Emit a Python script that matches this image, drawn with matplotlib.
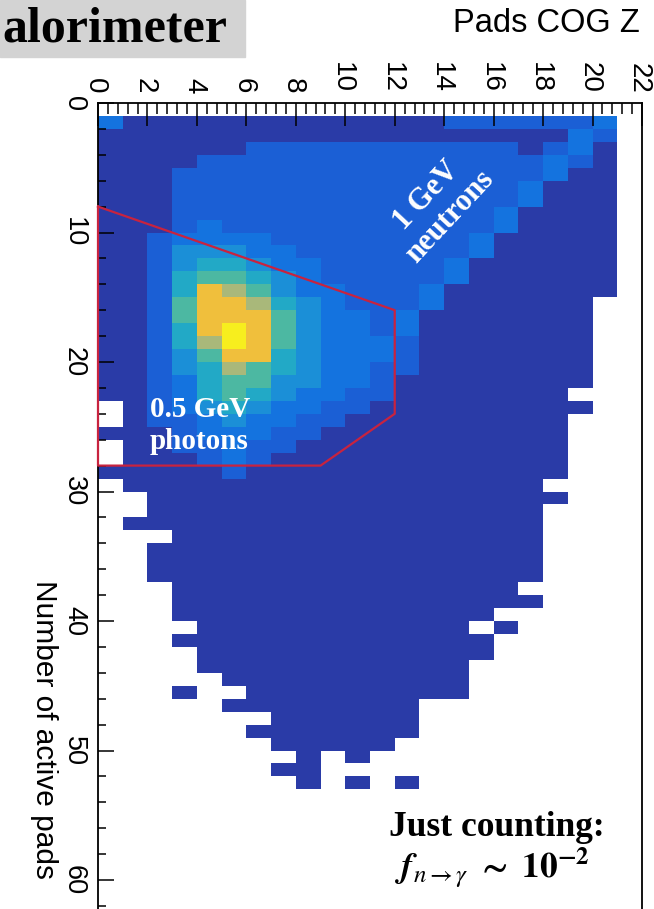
import numpy as np
import matplotlib.pyplot as plt
import matplotlib.transforms as mtransforms
from matplotlib.colors import ListedColormap, BoundaryNorm
from matplotlib.patches import Rectangle
from matplotlib.ticker import MultipleLocator

# colour level of each bin
# one string per "Number of active pads" bin (0..52), one char per "Pads COG Z" bin (0..21)
# '.' = empty bin, 1 = lowest .. 9 = highest (spaces only group columns by 5)
rows = [
    "..... ..... ..... ..... ..",
    "31111 11111 11112 22222 3.",
    "11111 11111 11111 11113 2.",
    "11111 12222 22222 22123 1.",
    "11112 22222 22222 22232 1.",
    "11122 22222 22222 22231 1.",
    "11122 22222 22222 22311 1.",
    "11122 22222 22222 22311 1.",
    "11122 22222 22222 23111 1.",
    "11123 22222 22222 23111 1.",
    "11233 33222 22222 31111 1.",
    "11244 43322 22222 31111 1.",
    "11245 54332 22223 11111 1.",
    "11256 65432 22223 11111 1.",
    "11258 76433 22231 11111 1.",
    "11268 87543 22231 11111 ..",
    "11268 88643 32311 11111 ..",
    "11258 98643 32311 11111 ..",
    "11257 98643 33211 11111 ..",
    "11246 88543 33211 11111 ..",
    "11245 76543 32211 11111 ..",
    "11235 66443 32111 11111 ..",
    "11235 65433 22111 1111. ..",
    ".1234 54332 21111 11111 ..",
    ".1223 43322 11111 1111. ..",
    "11123 33221 11111 1111. ..",
    ".1122 32211 11111 1111. ..",
    ".1112 32111 11111 1111. ..",
    "11111 21111 11111 1111. ..",
    ".1111 11111 11111 111.. ..",
    "..111 11111 11111 1111. ..",
    "..111 11111 11111 111.. ..",
    ".1111 11111 11111 111.. ..",
    "...11 11111 11111 111.. ..",
    "..111 11111 11111 111.. ..",
    "..111 11111 11111 111.. ..",
    "..111 11111 11111 111.. ..",
    "...11 11111 11111 11... ..",
    "...11 11111 11111 111.. ..",
    "...11 11111 11111 1.... ..",
    "....1 11111 11111 .1... ..",
    "...11 11111 11111 1.... ..",
    "....1 11111 11111 1.... ..",
    "....1 11111 11111 ..... ..",
    "..... 11111 11111 ..... ..",
    "...1. .1111 11111 ..... ..",
    "..... 11111 111.. ..... ..",
    "..... ..111 111.. ..... ..",
    "..... .1111 111.. ..... ..",
    "..... ..111 11... ..... ..",
    "..... ...1. 1.... ..... ..",
    "..... ..11. ..... ..... ..",
    "..... ...1. 1.1.. ..... ..",
]

palette = ['#2a3ba7', '#1b5fd5', '#1473df', '#1b8fd7', '#22a9c6',
           '#4cb8a2', '#a9b87a', '#f0bf3c', '#f7ee1e']

# photon selection cut drawn on top
cut_z = [0, 12, 12, 9, 0, 0]
cut_n = [8, 16, 24, 28, 28, 8]

level = np.array([[0 if ch == '.' else int(ch) for ch in r.replace(' ', '')]
                  for r in rows], float)
level = np.ma.masked_equal(level, 0)
z_edges = np.arange(level.shape[1] + 1)
n_edges = np.arange(level.shape[0] + 1)

W, H = 654, 909
fig = plt.figure(figsize=(W / 100, H / 100), dpi=100)

# axes: x from 0 to 22, y from 0 (top, px 103) downwards, 12.95 px per pad
y_max = 64
ax_h = y_max * 12.95 / H
ax = fig.add_axes([98 / W, 1 - 103 / H - ax_h, 544 / W, ax_h])

cmap = ListedColormap(palette)
norm = BoundaryNorm(np.arange(0.5, 10.5, 1), cmap.N)
ax.pcolormesh(z_edges, n_edges, level, cmap=cmap, norm=norm)
ax.set_xlim(0, 22)
ax.set_ylim(y_max, 0)

ax.plot(cut_z, cut_n, color='#c8233f', lw=1.6, zorder=5, clip_on=False)

# ticks
ax.xaxis.tick_top()
ax.xaxis.set_major_locator(MultipleLocator(2))
ax.xaxis.set_minor_locator(MultipleLocator(0.4))
ax.yaxis.set_major_locator(MultipleLocator(10))
ax.yaxis.set_minor_locator(MultipleLocator(2))
ax.tick_params(axis='x', which='both', direction='in', top=True, bottom=False,
               labelrotation=-90, labelsize=20, pad=7, width=1.1)
ax.tick_params(axis='x', which='major', length=16.5)
ax.tick_params(axis='x', which='minor', length=8)
ax.tick_params(axis='y', which='both', direction='in', left=True, right=False,
               labelrotation=-90, labelsize=19.5, pad=8, width=1.1)
ax.tick_params(axis='y', which='major', length=11.5)
ax.tick_params(axis='y', which='minor', length=6)
for lab in ax.get_xticklabels() + ax.get_yticklabels():
    lab.set_family('Liberation Sans')
for lab in ax.get_yticklabels():
    lab.set_verticalalignment('center')
shift = mtransforms.ScaledTranslation(-3 / 100, 0, fig.dpi_scale_trans)
for lab in ax.get_xticklabels():
    lab.set_transform(lab.get_transform() + shift)
for s in ax.spines.values():
    s.set_linewidth(1.3)

# annotations
ax.text(13.75, 8.0, '1 GeV\nneutrons', rotation=47, rotation_mode='anchor',
        ha='center', va='center', multialignment='center', color='white',
        fontsize=22, fontweight='bold', family='Liberation Serif', linespacing=1.1)
ax.text(2.1, 24.9, '0.5 GeV\nphotons', ha='left', va='center', color='white',
        fontsize=21, fontweight='bold', family='Liberation Serif', linespacing=1.25)

# title box, axis titles, bottom note
fig.patches.append(Rectangle((0, 1 - 57 / H), 245 / W, 57 / H,
                             transform=fig.transFigure, color='#d3d3d3', zorder=0))
fig.text(2 / W, 1 - 30 / H, 'alorimeter', ha='left', va='center',
         fontsize=36, fontweight='bold', family='Liberation Serif')
fig.text(640 / W, 1 - 23 / H, 'Pads COG Z', ha='right', va='center',
         fontsize=23.5, family='Liberation Sans')
fig.text(44 / W, 1 - 580 / H, 'Number of active pads', rotation=-90,
         ha='center', va='top', fontsize=21.5, family='Liberation Sans')

plt.rcParams['mathtext.fontset'] = 'stix'
fig.text(497 / W, 1 - 828 / H, 'Just counting:', ha='center', va='center',
         fontsize=25.5, fontweight='bold', family='Liberation Serif')
fig.text(492 / W, 1 - 868 / H,
         r'$\mathbfit{f}_{n\rightarrow\gamma}\ \mathbf{\sim}\ \mathbf{10}^{\mathbf{-2}}$',
         ha='center', va='center', fontsize=25.5)

fig.savefig('out.png', dpi=100)
